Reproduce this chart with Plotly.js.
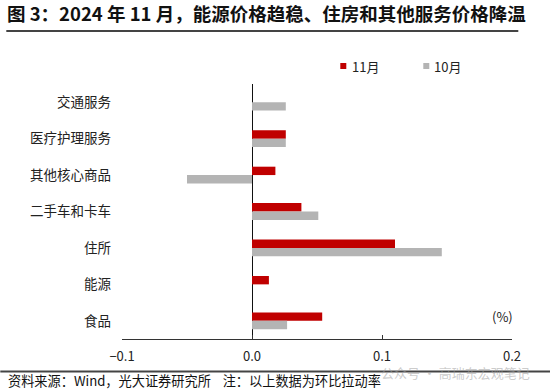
<!DOCTYPE html>
<html>
<head>
<meta charset="utf-8">
<script src="https://cdn.plot.ly/plotly-3.0.1.min.js"></script>
<style>html,body{margin:0;padding:0;background:#fff;}#chart{width:550px;height:391px;}</style>
</head>
<body>
<div id="chart"></div>
<script>
var categories = ["交通服务", "医疗护理服务", "其他核心商品", "二手车和卡车", "住所", "能源", "食品"];
var nov = [0, 0.026, 0.018, 0.038, 0.110, 0.013, 0.054];
var oct = [0.026, 0.026, -0.050, 0.051, 0.146, 0, 0.027];
var seriesNames = ["11月", "10月"];
var seriesColors = ["#c00000", "#b4b4b4"];
var xTicks = [-0.1, 0, 0.1, 0.2];
var boundaryTicks = [-0.5, 0.5, 1.5, 2.5, 3.5, 4.5, 5.5, 6.5];

var FONT = "'Noto Sans CJK SC', 'Noto Sans', sans-serif";
var L = 121.7, R = 511.7, T = 84, B = 339, W = 550, H = 391;
function px(x){ return (x - L) / (R - L); }
function py(y){ return (B - y) / (B - T); }

var data = [
  {type: "bar", orientation: "h", name: seriesNames[0], y: categories, x: nov,
   marker: {color: seriesColors[0], line: {width: 0}}, hoverinfo: "skip", showlegend: false},
  {type: "bar", orientation: "h", name: seriesNames[1], y: categories, x: oct,
   marker: {color: seriesColors[1], line: {width: 0}}, hoverinfo: "skip", showlegend: false}
];

// legend drawn as small squares + labels
var legendSq = [343, 426], legendTx = [350, 432], legendY = 66, sq = 3;
var shapes = [
  {type: "line", xref: "paper", yref: "paper", x0: px(6), x1: px(518), y0: py(31), y1: py(31),
   line: {color: "#444", width: 2}},
  {type: "line", xref: "paper", yref: "paper", x0: px(0), x1: px(550), y0: py(371.5), y1: py(371.5),
   line: {color: "#444", width: 2}}
];
var annotations = [
  {text: "(%)", xref: "paper", yref: "paper", x: px(502), y: py(316), xanchor: "center", yanchor: "middle",
   showarrow: false, font: {family: FONT, size: 13, color: "#222"}},
  {text: "资料来源：Wind，光大证券研究所&nbsp;&nbsp;&nbsp;&nbsp;注：以上数据为环比拉动率", xref: "paper", yref: "paper",
   x: px(6), y: py(380), xanchor: "left", yanchor: "middle", showarrow: false,
   font: {family: FONT, size: 13.2, color: "#111"}},
  {text: "公众号 · 高瑞东宏观笔记", xref: "paper", yref: "paper",
   x: px(532), y: py(372), xanchor: "right", yanchor: "middle", showarrow: false,
   font: {family: FONT, size: 13, color: "rgba(160,160,160,0.55)"}}
];
for (var i = 0; i < seriesNames.length; i++) {
  shapes.push({type: "rect", xref: "paper", yref: "paper",
    x0: px(legendSq[i] - sq), x1: px(legendSq[i] + sq), y0: py(legendY + sq), y1: py(legendY - sq),
    fillcolor: seriesColors[i], line: {width: 0}});
  annotations.push({text: seriesNames[i], xref: "paper", yref: "paper",
    x: px(legendTx[i]), y: py(legendY), xanchor: "left", yanchor: "middle", showarrow: false,
    font: {family: FONT, size: 13, color: "#222"}});
}

var layout = {
  width: W, height: H,
  margin: {l: L, r: W - R, t: T, b: H - B, pad: 0},
  paper_bgcolor: "#ffffff", plot_bgcolor: "#ffffff",
  font: {family: FONT, size: 13, color: "#222"},
  barmode: "group", bargap: 0.54, bargroupgap: 0,
  showlegend: false,
  title: {text: "<b>图 3：2024 年 11 月，能源价格趋稳、住房和其他服务价格降温</b>",
          font: {family: FONT, size: 18.5, color: "#111"},
          xref: "container", yref: "container", x: 7 / W, xanchor: "left",
          y: 1 - 15 / H, yanchor: "middle"},
  xaxis: {range: [-0.1, 0.2], tickvals: xTicks, tickformat: ".1f",
          ticks: "inside", ticklen: 4, tickcolor: "#333", tickwidth: 1,
          showline: true, linecolor: "#333", linewidth: 1,
          showgrid: false, zeroline: true, zerolinecolor: "#111", zerolinewidth: 1,
          ticklabelstandoff: 5,
          tickfont: {family: FONT, size: 13, color: "#222"}, fixedrange: true},
  yaxis: {type: "category", autorange: "reversed", categoryorder: "array", categoryarray: categories,
          showline: false, showgrid: false, zeroline: false, ticks: "",
          ticklabelstandoff: 10,
          tickfont: {family: FONT, size: 13.5, color: "#222"}, fixedrange: true},
  yaxis2: {overlaying: "y", anchor: "free", position: px(251), side: "left",
           range: [6.5, -0.5], tickvals: boundaryTicks, ticks: "inside", ticklen: 4,
           tickcolor: "#333", showticklabels: false, showline: false, showgrid: false,
           zeroline: false, fixedrange: true},
  shapes: shapes,
  annotations: annotations
};

Plotly.newPlot("chart", data, layout, {staticPlot: true, displayModeBar: false});
</script>
</body>
</html>
